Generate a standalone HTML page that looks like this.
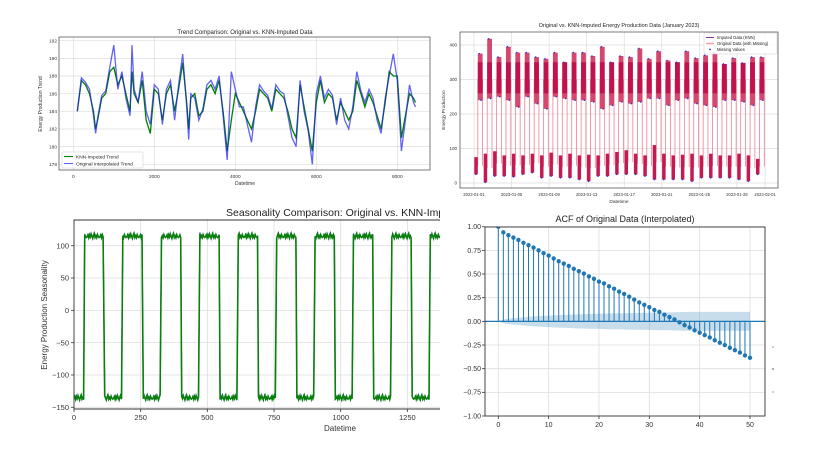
<!DOCTYPE html>
<html><head><meta charset="utf-8"><style>
html,body{margin:0;padding:0;background:#fff;}
svg{display:block;font-family:"Liberation Sans",sans-serif;}
</style></head><body>
<svg id="fig" width="818" height="457" viewBox="0 0 818 457" xmlns="http://www.w3.org/2000/svg">
<defs>
<clipPath id="clipTL"><rect x="59" y="37" width="371" height="133"/></clipPath>
<clipPath id="clipTR"><rect x="460" y="32" width="318" height="156"/></clipPath>
<clipPath id="clipBL"><rect x="74" y="220" width="366" height="189"/></clipPath>
<clipPath id="clipBLT"><rect x="0" y="200" width="440" height="30"/></clipPath>
<clipPath id="clipBR"><rect x="485" y="227" width="280" height="189"/></clipPath>
</defs>
<g id="tl"></g>
<g id="tr"></g>
<g id="bl"></g>
<g id="br"></g>
<g>
<line x1="772" y1="347" x2="774" y2="347" stroke="#888" stroke-width="0.8"/>
<line x1="772" y1="369" x2="774" y2="369" stroke="#333" stroke-width="0.8"/>
<line x1="772" y1="392" x2="774" y2="392" stroke="#888" stroke-width="0.8"/>
</g>
</svg>
<script>
// ---------- DATA ----------
const trendX = [100,200,300,400,500,550,600,700,800,900,1000,1100,1200,1300,1400,1450,1500,1600,1700,1800,1900,2000,2100,2200,2300,2400,2500,2600,2700,2800,2850,2900,3000,3100,3200,3300,3400,3500,3600,3700,3800,3900,4000,4100,4200,4300,4400,4500,4600,4700,4800,4900,5000,5100,5200,5300,5400,5500,5600,5700,5800,5900,6000,6100,6200,6300,6400,6500,6600,6700,6800,6900,7000,7100,7200,7300,7400,7500,7600,7700,7800,7900,8000,8100,8200,8300,8400,8450];
const knnTrend = [184,187.5,187,186,184,182,183,185.5,186,188.5,189,187,188,186,184,188.5,186,185,187.5,183,181.5,186.5,186,183,186,187,184,186.5,189.5,185,182,185.5,186,183.5,184,186.5,187,186,187.5,184,179.5,183,186,185,184,183,182,184,186.5,186,185.5,184,186.5,186,185.5,184,182,181,187,184.5,182,179.5,185,187.5,185,186,185.5,183,185,184,183,184,187.5,186,184.5,186,185,183.5,182,185,188.5,188,188,181,183.5,186,185.5,185];
const origTrend = [184,187.8,187.3,186.5,183.5,181.5,183.2,185.8,186.3,189,191.5,186.5,188.5,185.5,183.5,191.5,186.5,185,188.5,184,182.5,187,186.5,182.5,186.5,187.5,183,187,190.5,184.5,180.8,186,185.5,183,184.3,187,187.5,186.5,188,183.5,178.5,188.5,186.5,184.5,184.5,182.5,180.5,184.5,187,186.3,185.8,184.3,187,186.3,186,183.5,181,180,187.5,184,181.8,178,186,188,185.5,186.5,185.8,182.5,185.5,183,182,184.5,188.5,186.3,185,186.5,185.5,183,181.5,185.5,188,190.5,187.5,179.5,183,187,185,184.5];
const trendXTicks = [0,2000,4000,6000,8000];
const trendYTicks = [178,180,182,184,186,188,190,192];

const dayHiMax = [375,418,365,395,378,378,365,360,378,350,378,378,368,395,350,368,365,390,360,382,355,350,382,362,370,378,345,362,348,365,365];
const dayHiMin = [240,245,250,240,220,250,230,215,250,245,240,240,235,215,225,235,230,235,245,245,225,240,245,230,225,220,240,240,235,225,240];
const dayLoMax = [75,85,92,80,85,80,85,80,88,80,85,80,82,80,85,90,95,85,80,110,85,80,82,85,80,85,80,80,85,80,70];
const dayLoMin = [25,2,20,20,18,25,30,15,20,15,15,10,5,20,20,25,25,25,20,10,10,10,10,5,15,15,15,15,10,5,25];
const dateTicks = [0,4,8,12,16,20,24,28,31];
const dateLabels = ["2023-01-01","2023-01-05","2023-01-09","2023-01-13","2023-01-17","2023-01-21","2023-01-25","2023-01-29","2023-02-01"];
const energyYTicks = [0,100,200,300,400];

const seasonRise = [37,180,325,469,613,757,901,1045,1189,1333];
const seasonFall = [112,257,401,545,689,833,977,1121,1265,1409];
const seasonHigh = 114;
const seasonLow = -136;
const seasonNoise = [0,4,-3,5,-1,6,1,-4,3,8,-2,2,-3,5,0,-2];
const seasonXTicks = [0,250,500,750,1000,1250];
const seasonYTicks = [100,50,0,-50,-100,-150];

const acfVals = [1.0,0.94,0.91,0.885,0.86,0.83,0.805,0.78,0.75,0.72,0.695,0.665,0.635,0.61,0.585,0.555,0.53,0.505,0.475,0.45,0.42,0.4,0.37,0.345,0.315,0.29,0.26,0.23,0.2,0.175,0.15,0.12,0.1,0.07,0.045,0.02,-0.01,-0.04,-0.065,-0.095,-0.12,-0.145,-0.17,-0.2,-0.225,-0.25,-0.28,-0.305,-0.33,-0.36,-0.385];
const acfConf = [0,0.02,0.028,0.034,0.039,0.044,0.048,0.052,0.055,0.058,0.061,0.064,0.066,0.068,0.07,0.072,0.074,0.076,0.078,0.079,0.08,0.082,0.083,0.084,0.085,0.086,0.087,0.088,0.089,0.09,0.091,0.092,0.093,0.094,0.095,0.097,0.098,0.099,0.1,0.1,0.1,0.1,0.1,0.1,0.1,0.1,0.1,0.1,0.1,0.1,0.1];
const acfXTicks = [0,10,20,30,40,50];
const acfYTicks = [1,0.75,0.5,0.25,0,-0.25,-0.5,-0.75,-1];

// ---------- HELPERS ----------
const NS = "http://www.w3.org/2000/svg";
function mk(parent, tag, attrs, text){
  const e = document.createElementNS(NS, tag);
  for (const k in attrs) e.setAttribute(k, attrs[k]);
  if (text !== undefined) e.textContent = text;
  parent.appendChild(e);
  return e;
}
function fmt(v, d){ const s = v.toFixed(d); return s.replace("-", "\u2212"); }

// ---------- TOP-LEFT: TREND ----------
(function(){
  const g = document.getElementById("tl");
  const L=59,R=430,T=37,B=170;
  const x = v => 73.3 + v*(324/8000);
  const y = v => 164.3 - (v-178)*(123.6/14);
  let e;
  e = mk(g,"text",{x:245,y:34,"font-size":6,"text-anchor":"middle",fill:"#222"},"Trend Comparison: Original vs. KNN-Imputed Data");
   
  trendXTicks.forEach(t=>{
    e = mk(g,"line",{x1:x(t),x2:x(t),y1:T,y2:B,stroke:"#ddd","stroke-width":0.7});
     
    e = mk(g,"text",{x:x(t),y:178,"font-size":4.8,"text-anchor":"middle",fill:"#333"},String(t));
     
  });
  trendYTicks.forEach(t=>{
    e = mk(g,"line",{x1:L,x2:R,y1:y(t),y2:y(t),stroke:"#ddd","stroke-width":0.7});
     
    e = mk(g,"text",{x:57,y:y(t)+1.7,"font-size":4.8,"text-anchor":"end",fill:"#333"},String(t));
     
  });
  const cg = mk(g,"g",{"clip-path":"url(#clipTL)"});
  let p1 = trendX.map((v,i)=>(i?"L":"M")+x(v).toFixed(1)+","+y(knnTrend[i]).toFixed(1)).join("");
  e = mk(cg,"path",{d:p1,fill:"none",stroke:"#008000","stroke-width":1.3});
   
  let p2 = trendX.map((v,i)=>(i?"L":"M")+x(v).toFixed(1)+","+y(origTrend[i]).toFixed(1)).join("");
  e = mk(cg,"path",{d:p2,fill:"none",stroke:"#2020ee","stroke-width":1.3,"stroke-opacity":0.7});
   
  e = mk(g,"rect",{x:L,y:T,width:R-L,height:B-T,fill:"none",stroke:"#444","stroke-width":0.7});
   
  e = mk(g,"text",{x:245,y:185,"font-size":5,"text-anchor":"middle",fill:"#333"},"Datetime");
   
  e = mk(g,"text",{x:0,y:0,"font-size":5,"text-anchor":"middle",fill:"#333",transform:"translate(42,104) rotate(-90)"},"Energy Production Trend");
   
  const lg = mk(g,"g",{});
   
  mk(lg,"rect",{x:62,y:152,width:81,height:16,fill:"#fff","fill-opacity":0.85,stroke:"#ccc","stroke-width":0.5,rx:1});
  mk(lg,"line",{x1:64,x2:73,y1:156.5,y2:156.5,stroke:"#008000","stroke-width":1.1});
  e = mk(lg,"text",{x:76,y:158.3,"font-size":4.8,fill:"#222"},"KNN-Imputed Trend");
   
  mk(lg,"line",{x1:64,x2:73,y1:163.5,y2:163.5,stroke:"#2020ee","stroke-opacity":0.7,"stroke-width":1.1});
  e = mk(lg,"text",{x:76,y:165.3,"font-size":4.8,fill:"#222"},"Original Interpolated Trend");
   
})();

// ---------- TOP-RIGHT: ENERGY PRODUCTION ----------
(function(){
  const g = document.getElementById("tr");
  const L=460,R=778,T=32,B=188;
  const x = d => 474 + d*9.39;
  const y = v => 183 - v*0.345;
  let e;
  e = mk(g,"text",{x:619,y:27,"font-size":5.5,"text-anchor":"middle",fill:"#222"},"Original vs. KNN-Imputed Energy Production Data (January 2023)");
   
  dateTicks.forEach((t,i)=>{
    e = mk(g,"line",{x1:x(t),x2:x(t),y1:T,y2:B,stroke:"#ddd","stroke-width":0.7});
     
    e = mk(g,"text",{x:x(t),y:196,"font-size":4.2,"text-anchor":"middle",fill:"#333"},dateLabels[i]);
     
  });
  energyYTicks.forEach(t=>{
    e = mk(g,"line",{x1:L,x2:R,y1:y(t),y2:y(t),stroke:"#ddd","stroke-width":0.7});
     
    e = mk(g,"text",{x:457,y:y(t)+1.5,"font-size":4.5,"text-anchor":"end",fill:"#333"},String(t));
     
  });
  const cg = mk(g,"g",{"clip-path":"url(#clipTR)"});
  dayHiMax.forEach((hm,d)=>{
    const x0 = x(d)+0.3, xl = x(d)+3.8, xh = x(d)+8.6;
    const loMid = (dayLoMax[d]+dayLoMin[d])/2;
    e = mk(cg,"line",{x1:xl,x2:xl,y1:y(loMid),y2:y(300),stroke:"#f08090","stroke-width":0.8});
     
    e = mk(cg,"line",{x1:xh,x2:xh,y1:y(300),y2:y(loMid),stroke:"#f08090","stroke-width":0.8});
     
    e = mk(cg,"rect",{x:x0,y:y(dayLoMax[d]),width:3.5,height:y(dayLoMin[d])-y(dayLoMax[d]),fill:"#c41a52"});
     
    e = mk(cg,"rect",{x:xl,y:y(hm),width:xh-xl,height:y(dayHiMin[d])-y(hm),fill:"#d4476e"});
     
    e = mk(cg,"rect",{x:xl,y:y(Math.min(hm,350)),width:xh-xl,height:y(Math.max(dayHiMin[d],260))-y(Math.min(hm,350)),fill:"#c0124c"});
     
    e = mk(cg,"circle",{cx:xl+1.5,cy:y(hm),r:0.8,fill:"#3030d0"});
     
    e = mk(cg,"circle",{cx:xh-1.5,cy:y(dayHiMin[d]),r:0.8,fill:"#3030d0"});
     
    e = mk(cg,"circle",{cx:x0+1.6,cy:y(dayLoMin[d]),r:0.8,fill:"#3030d0"});
     
  });
  e = mk(g,"rect",{x:L,y:T,width:R-L,height:B-T,fill:"none",stroke:"#444","stroke-width":0.7});
   
  e = mk(g,"text",{x:619,y:203,"font-size":4.8,"text-anchor":"middle",fill:"#333"},"Datetime");
   
  e = mk(g,"text",{x:0,y:0,"font-size":4.8,"text-anchor":"middle",fill:"#333",transform:"translate(445,110) rotate(-90)"},"Energy Production");
   
  const lg = mk(g,"g",{});
   
  mk(lg,"rect",{x:704,y:33,width:73,height:21,fill:"#fff","fill-opacity":0.85,stroke:"#ccc","stroke-width":0.5,rx:1});
  mk(lg,"line",{x1:706,x2:714,y1:37.5,y2:37.5,stroke:"#7b2fa8","stroke-width":1});
  e = mk(lg,"text",{x:717,y:39,"font-size":4.2,fill:"#222"},"Imputed Data (KNN)");
   
  mk(lg,"line",{x1:706,x2:714,y1:43.5,y2:43.5,stroke:"#f4a0aa","stroke-width":1.5});
  e = mk(lg,"text",{x:717,y:45,"font-size":4.2,fill:"#222"},"Original Data (with Missing)");
   
  mk(lg,"circle",{cx:710,cy:49.5,r:0.9,fill:"#3030d0"});
  e = mk(lg,"text",{x:717,y:51,"font-size":4.2,fill:"#222"},"Missing Values");
   
})();

// ---------- BOTTOM-LEFT: SEASONALITY ----------
(function(){
  const g = document.getElementById("bl");
  const L=74,R=440,T=220,B=409;
  const x = v => 74 + v*(66.67/250);
  const y = v => 245.7 - (v-100)*0.6464;
  let e;
  const tg = mk(g,"g",{"clip-path":"url(#clipBLT)"});
  e = mk(tg,"text",{x:226,y:216,"font-size":10.5,fill:"#222"},"Seasonality Comparison: Original vs. KNN-Imputed Data");
   
  seasonXTicks.forEach(t=>{
    e = mk(g,"line",{x1:x(t),x2:x(t),y1:T,y2:B,stroke:"#ddd","stroke-width":0.8});
     
    e = mk(g,"line",{x1:x(t),x2:x(t),y1:B,y2:B+3,stroke:"#333","stroke-width":0.8});
    e = mk(g,"text",{x:x(t),y:420,"font-size":7.5,"text-anchor":"middle",fill:"#333"},String(t));
     
  });
  seasonYTicks.forEach(t=>{
    e = mk(g,"line",{x1:L,x2:R,y1:y(t),y2:y(t),stroke:"#ddd","stroke-width":0.8});
     
    e = mk(g,"line",{x1:L-3,x2:L,y1:y(t),y2:y(t),stroke:"#333","stroke-width":0.8});
    e = mk(g,"text",{x:69,y:y(t)+2.7,"font-size":7.5,"text-anchor":"end",fill:"#333"},fmt(t,0));
     
  });
  function buildPath(scale){
    let pts = [];
    let n = 0;
    const seg = (a,b,lvl)=>{
      for (let v=a; v<b; v+=3){ pts.push([v, lvl + seasonNoise[n%seasonNoise.length]*scale]); n++; }
    };
    seg(0, seasonRise[0], seasonLow);
    seasonRise.forEach((r,i)=>{
      seg(r+3, seasonFall[i], seasonHigh);
      const next = i+1<seasonRise.length ? seasonRise[i+1] : 1420;
      seg(seasonFall[i]+3, next, seasonLow);
    });
    return pts.map((p,i)=>(i?"L":"M")+x(p[0]).toFixed(1)+","+y(p[1]).toFixed(1)).join("");
  }
  const cg = mk(g,"g",{"clip-path":"url(#clipBL)"});
  e = mk(cg,"path",{d:buildPath(0.8),fill:"none",stroke:"#3344dd","stroke-width":1.2});
   
  e = mk(cg,"path",{d:buildPath(0.6),fill:"none",stroke:"#0a800a","stroke-width":1.6});
   
  e = mk(g,"path",{d:`M${R},${T}H${L}V${B}H${R}`,fill:"none",stroke:"#333","stroke-width":0.9});
   
  e = mk(g,"text",{x:340,y:431,"font-size":8,"text-anchor":"middle",fill:"#333"},"Datetime");
   
  e = mk(g,"text",{x:0,y:0,"font-size":8,"text-anchor":"middle",fill:"#333",transform:"translate(47,315) rotate(-90)"},"Energy Production Seasonality");
   
})();

// ---------- BOTTOM-RIGHT: ACF ----------
(function(){
  const g = document.getElementById("br");
  const L=485,R=765,T=227,B=416;
  const x = l => 498.3 + l*5.034;
  const y = v => 321.35 - v*94.65;
  let e;
  e = mk(g,"text",{x:625,y:222,"font-size":9,"text-anchor":"middle",fill:"#222"},"ACF of Original Data (Interpolated)");
   
  acfXTicks.forEach(t=>{
    e = mk(g,"line",{x1:x(t),x2:x(t),y1:T,y2:B,stroke:"#ddd","stroke-width":0.8});
     
    mk(g,"line",{x1:x(t),x2:x(t),y1:B,y2:B+3,stroke:"#333","stroke-width":0.8});
    e = mk(g,"text",{x:x(t),y:427,"font-size":7,"text-anchor":"middle",fill:"#333"},String(t));
     
  });
  acfYTicks.forEach(t=>{
    e = mk(g,"line",{x1:L,x2:R,y1:y(t),y2:y(t),stroke:"#ddd","stroke-width":0.8});
     
    mk(g,"line",{x1:L-3,x2:L,y1:y(t),y2:y(t),stroke:"#333","stroke-width":0.8});
    e = mk(g,"text",{x:481,y:y(t)+2.4,"font-size":7,"text-anchor":"end",fill:"#333"},fmt(t,2));
     
  });
  const cg = mk(g,"g",{"clip-path":"url(#clipBR)"});
  let up = acfConf.map((c,i)=>(i?"L":"M")+x(i).toFixed(1)+","+y(c).toFixed(1)).join("");
  let down = acfConf.slice().reverse().map((c,j)=>"L"+x(acfConf.length-1-j).toFixed(1)+","+y(-c).toFixed(1)).join("");
  e = mk(cg,"path",{d:up+down+"Z",fill:"#1f77b4","fill-opacity":0.25,stroke:"none"});
   
  e = mk(cg,"line",{x1:L,x2:R,y1:y(0),y2:y(0),stroke:"#1f77b4","stroke-width":1.2});
   
  acfVals.forEach((v,i)=>{
    e = mk(cg,"line",{x1:x(i),x2:x(i),y1:y(0),y2:y(v),stroke:"#1f77b4","stroke-width":1});
     
    e = mk(cg,"circle",{cx:x(i),cy:y(v),r:2.2,fill:"#1f77b4"});
     
  });
  e = mk(g,"rect",{x:L,y:T,width:R-L,height:B-T,fill:"none",stroke:"#333","stroke-width":0.9});
   
})();
</script>
</body></html>
